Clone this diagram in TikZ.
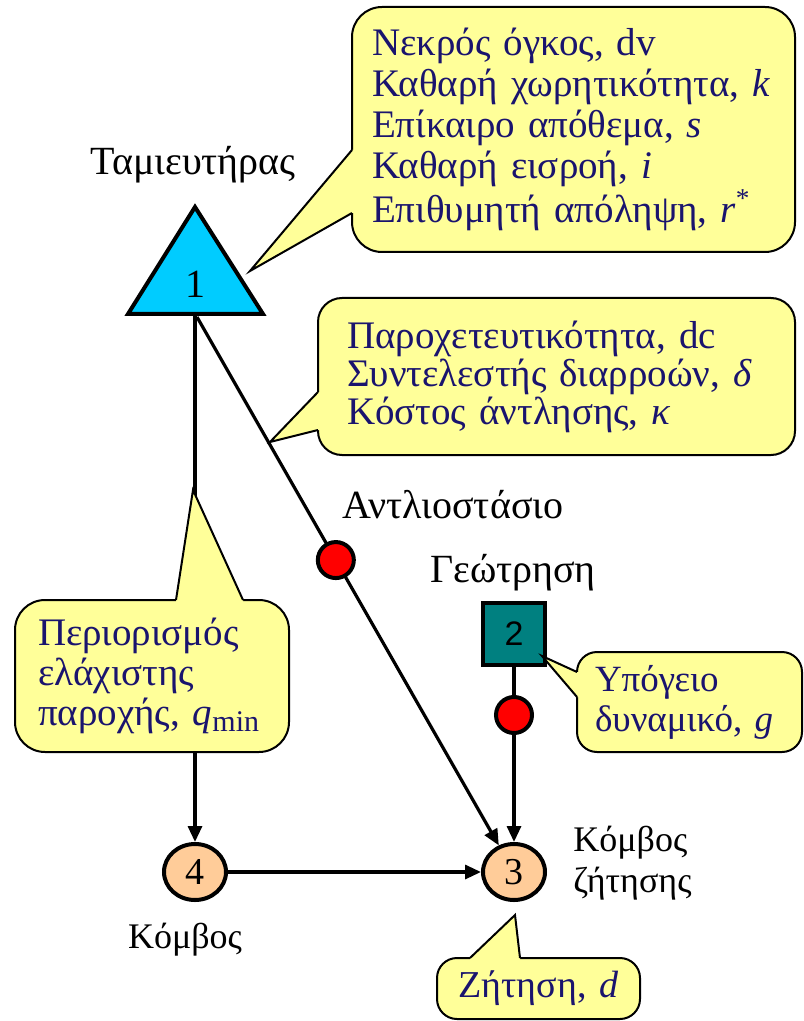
\documentclass[tikz,border=0pt]{standalone}
\usepackage{fontspec}
\setmainfont{Liberation Serif}
\newfontfamily\numsans{Liberation Sans}
\usetikzlibrary{arrows.meta,shapes.geometric}

\definecolor{callyellow}{HTML}{FFFF99}
\definecolor{calltext}{RGB}{26,20,110}
\definecolor{tankblue}{HTML}{00CCFF}
\definecolor{wellteal}{HTML}{008080}
\definecolor{nodepeach}{HTML}{FFCC99}

\begin{document}
\begin{tikzpicture}[x=0.5pt, y=-0.5pt,
    lbl/.style={font=\fontsize{18}{20.5}\selectfont, inner sep=0pt},
    biglbl/.style={font=\fontsize{20}{22}\selectfont, inner sep=0pt},
    flow/.style={-{Triangle[length=8pt,width=7pt]}, line width=1.6pt, black},
    junction/.style={ellipse, draw=black, line width=2pt, fill=nodepeach, minimum width=31pt, minimum height=28pt, inner sep=0pt, font=\fontsize{19}{19}\selectfont},
    pump/.style={circle, draw=black, line width=2pt, fill=red, minimum size=18pt, inner sep=0pt},
    wellbox/.style={rectangle, draw=black, line width=2pt, fill=wellteal, minimum size=31pt, inner sep=0pt, font=\numsans\fontsize{17}{17}\selectfont},
    callbody/.style={rectangle, draw=black, line width=1pt, fill=callyellow, text=calltext, align=left, inner ysep=0pt, font=\fontsize{19.5}{20.5}\selectfont},
    calltip/.style={draw=black, line width=1pt, line join=miter},
    calltipfill/.style={fill=callyellow}
  ]
    \useasboundingbox (0,0) rectangle (803,1021);

    % --- NETWORK ---
    \draw[line width=2pt, fill=tankblue, line join=miter] (195,207) -- (263,314) -- (128,314) -- cycle;
    \node[font=\fontsize{20}{20}\selectfont, inner sep=0pt] (res) at (195,284) {1};
    \coordinate (resdown) at (195,316);
    \coordinate (resdiag) at (197,317);

    \node[wellbox] (well) at (514,634) {2};
    \node[junction] (n3) at (514,872) {3};
    \node[junction] (n4) at (195,872) {4};

    \draw[flow] (resdown) -- (n4);
    \draw[flow] (resdiag) -- node[pump, pos=0.46] (pump1) {} (n3);
    \draw[flow] (well) -- (n3);
    \node[pump] (pump2) at (514,715) {};
    \draw[flow] (n4) -- (n3);

    \node[biglbl] (restitle) at (193,165) {Ταμιευτήρας};
    \node[biglbl] (pumptitle) at (453,505) {Αντλιοστάσιο};
    \node[biglbl] (welltitle) at (513,573) {Γεώτρηση};
    \node[lbl] (n4title) at (185,940) {Κόμβος};
    \node[lbl, anchor=west, align=left] (n3title) at (573,863) {Κόμβος\\ζήτησης};

    % --- CALLOUTS ---
    \node[callbody, rounded corners=15pt, minimum width=221.5pt, minimum height=122.5pt, text width=201.5pt, inner xsep=10pt] (resinfo) at (573.5,129.5)
      {Νεκρός όγκος, dv\\ Καθαρή χωρητικότητα, \textit{k}\\ Επίκαιρο απόθεμα, \textit{s}\\ Καθαρή εισροή, \textit{i}\\ Επιθυμητή απόληψη, \textit{r}\textsuperscript{*}};
    \fill[calltipfill] (352,150) -- (250,271) -- (352,213) -- (356,213) -- (356,150) -- cycle;
    \draw[calltip] (352,150) -- (250,271) -- (352,213);

    \node[callbody, rounded corners=12pt, minimum width=238.5pt, minimum height=78.5pt, text width=209.5pt, inner xsep=14.5pt, font=\fontsize{19.5}{19}\selectfont] (pipeinfo) at (556.5,376.5)
      {Παροχετευτικότητα, dc\\ Συντελεστής διαρροών, \textit{δ}\\ Κόστος άντλησης, \textit{κ}};
    \fill[calltipfill] (318,392) -- (270,442) -- (318,430) -- (322,430) -- (322,392) -- cycle;
    \draw[calltip] (318,392) -- (270,442) -- (318,430);

    \node[callbody, rounded corners=10pt, minimum width=112.5pt, minimum height=50pt, text width=94.5pt, inner xsep=9pt, font=\fontsize{18.5}{20}\selectfont] (wellinfo) at (689.5,702)
      {Υπόγειο\\ δυναμικό, \textit{g}};
    \fill[calltipfill] (577,672) -- (542,656) -- (577,697) -- (581,697) -- (581,672) -- cycle;
    \draw[calltip] (577,672) -- (542,656) -- (577,697);

    \node[callbody, rounded corners=15pt, minimum width=137pt, minimum height=76pt, text width=114pt, inner xsep=11.5pt, font=\fontsize{19.5}{20}\selectfont] (flowinfo) at (152,676)
      {Περιορισμός\\ ελάχιστης\\ παροχής, \textit{q}\raisebox{-0.35ex}{\fontsize{15}{15}\selectfont min}};
    \fill[calltipfill] (176,600) -- (193,490) -- (243,600) -- (243,604) -- (176,604) -- cycle;
    \draw[calltip] (176,600) -- (193,490) -- (243,600);

    \node[callbody, rounded corners=10pt, minimum width=101.5pt, minimum height=30.5pt, text width=81.5pt, inner xsep=10pt, align=center, font=\fontsize{19}{20}\selectfont] (demandinfo) at (538.5,988.5)
      {Ζήτηση, \textit{d}};
    \fill[calltipfill] (470,958) -- (515,915) -- (520,958) -- (520,962) -- (470,962) -- cycle;
    \draw[calltip] (470,958) -- (515,915) -- (520,958);
  \end{tikzpicture}
\end{document}
